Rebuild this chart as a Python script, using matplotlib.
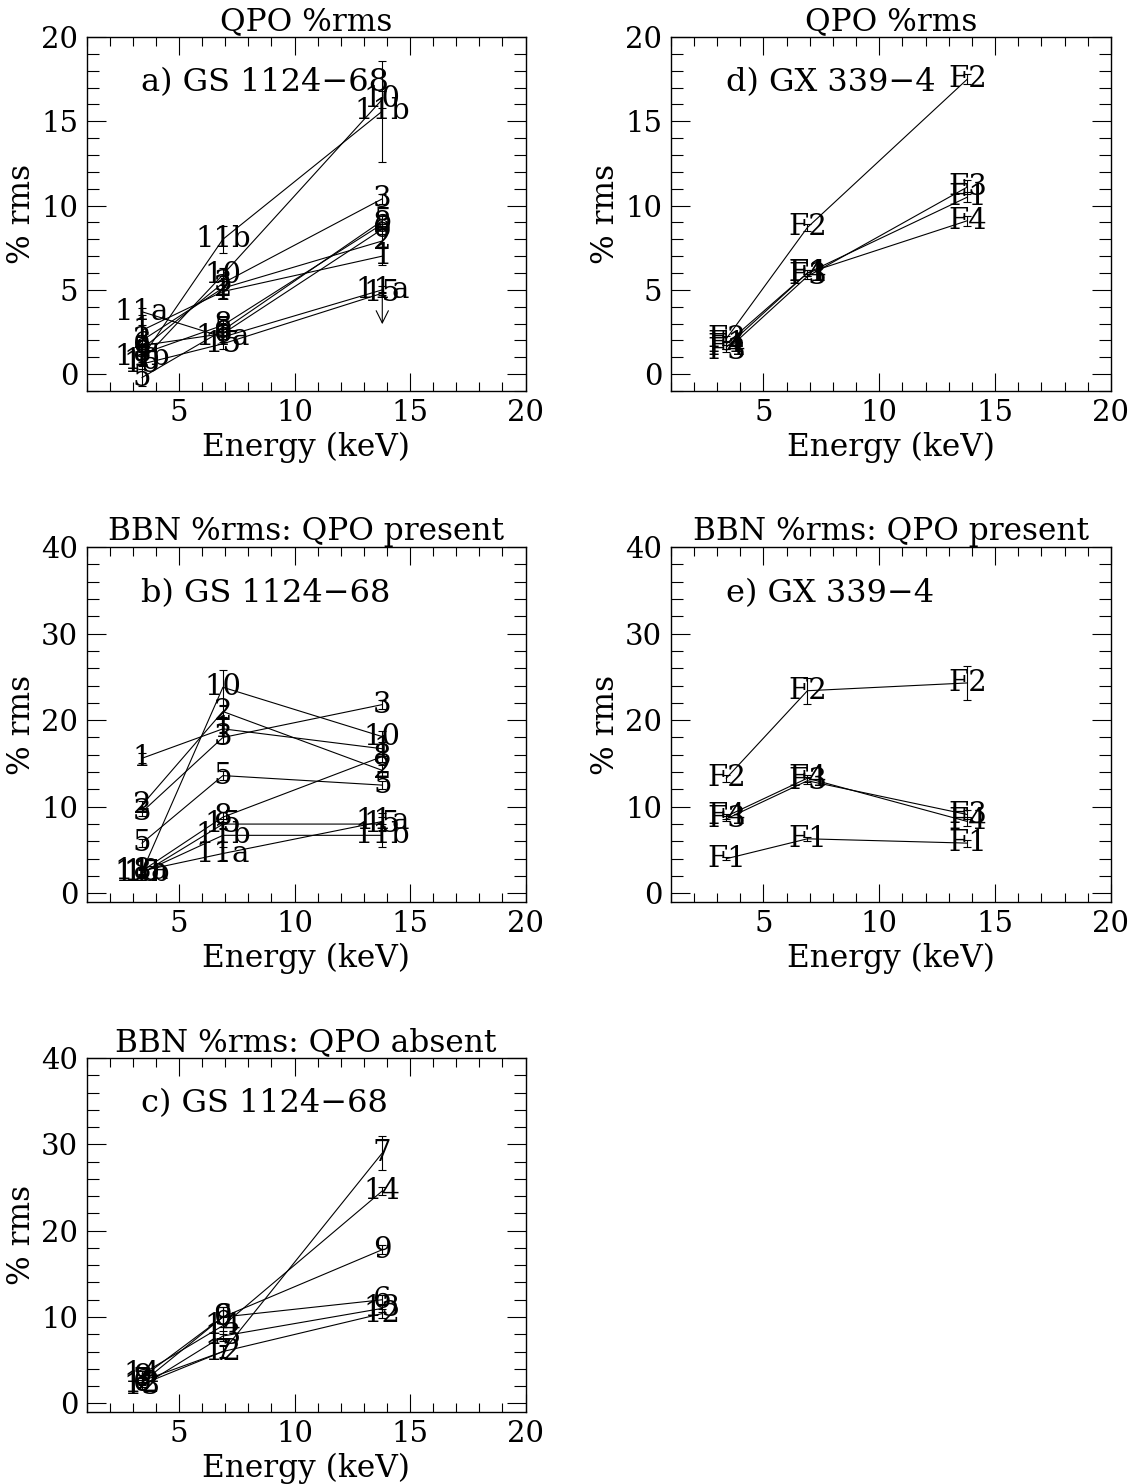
import matplotlib
matplotlib.use("Agg")
import matplotlib.pyplot as plt
from matplotlib.ticker import MultipleLocator

plt.rcParams["font.family"] = ["DejaVu Serif"]
plt.rcParams["font.size"] = 22

# band centres (keV)
energy = [3.4, 6.9, 13.8]

# a) GS 1124-68, QPO %rms
qpo_gs_names = ["1", "2", "3", "5", "6", "8", "10", "11a", "11b", "15"]
qpo_gs_rms = [
    [2.6, 4.9, 7.0],
    [2.0, 5.1, 7.9],
    [1.5, 5.4, 10.4],
    [-0.2, 2.6, 9.1],
    [1.7, 2.4, 8.6],
    [1.2, 2.9, 8.9],
    [0.8, 5.9, 16.3],
    [3.7, 2.2, 5.0],
    [1.0, 8.0, 15.6],
    [0.6, 1.8, 4.8],
]
qpo_gs_err = [
    [0.3, 0.4, 0.5],
    [0.3, 0.4, 0.4],
    [0.3, 0.4, 0.3],
    [0.5, 0.3, 0.3],
    [0.3, 0.3, 0.3],
    [0.3, 0.4, 0.3],
    [0.3, 0.4, 0.5],
    [0.2, 0.3, 0.2],
    [0.3, 0.8, 3.0],
    [0.3, 0.3, 0.1],
]
# upper limit on "15" in the top band
qpo_gs_limit = ("15", 2.0)

# d) GX 339-4, QPO %rms
qpo_gx_names = ["F1", "F2", "F3", "F4"]
qpo_gx_rms = [
    [1.8, 6.0, 10.5],
    [2.1, 8.7, 17.5],
    [1.4, 5.8, 11.1],
    [1.6, 6.0, 9.1],
]
qpo_gx_err = [
    [0.1, 0.15, 0.3],
    [0.15, 0.2, 0.3],
    [0.1, 0.15, 0.4],
    [0.1, 0.15, 0.3],
]

# b) GS 1124-68, BBN %rms with QPO
bbn_gs_names = ["1", "2", "3", "5", "8", "10", "11a", "11b", "15"]
bbn_gs_rms = [
    [15.6, 19.0, 16.7],
    [10.2, 21.0, 14.2],
    [9.4, 18.0, 21.8],
    [5.8, 13.6, 12.5],
    [2.6, 8.8, 15.8],
    [2.5, 23.8, 18.1],
    [2.6, 4.6, 8.3],
    [2.4, 6.7, 6.7],
    [2.3, 8.0, 8.0],
]
bbn_gs_err = [
    [0.6, 0.5, 0.6],
    [0.5, 0.6, 0.6],
    [0.5, 0.6, 0.5],
    [0.5, 0.5, 0.5],
    [0.4, 0.6, 0.6],
    [0.4, 2.0, 0.6],
    [0.4, 0.8, 1.0],
    [0.4, 0.8, 1.3],
    [0.4, 0.6, 0.8],
]

# e) GX 339-4, BBN %rms with QPO
bbn_gx_names = ["F1", "F2", "F3", "F4"]
bbn_gx_rms = [
    [4.0, 6.3, 5.8],
    [13.3, 23.4, 24.3],
    [8.6, 13.0, 9.1],
    [8.9, 13.3, 8.3],
]
bbn_gx_err = [
    [0.2, 0.2, 0.4],
    [0.4, 1.5, 2.0],
    [0.3, 0.4, 0.5],
    [0.3, 0.4, 0.5],
]

# c) GS 1124-68, BBN %rms without QPO
bbn_abs_names = ["6", "7", "9", "12", "13", "14"]
bbn_abs_rms = [
    [2.4, 10.0, 12.0],
    [2.6, 6.0, 29.0],
    [3.0, 10.0, 17.8],
    [2.2, 6.0, 10.4],
    [2.0, 7.8, 11.0],
    [3.4, 9.0, 24.6],
]
bbn_abs_err = [
    [0.3, 1.2, 0.5],
    [0.3, 0.8, 2.0],
    [0.3, 1.2, 0.5],
    [0.3, 0.6, 0.5],
    [0.3, 0.6, 0.4],
    [0.3, 1.0, 0.5],
]

W, H = 1135, 1484
fig = plt.figure(figsize=(W / 100, H / 100), dpi=100)


def panel(box, ymax, ystep, yminor, title, tag, names, rms, errs, limit=None):
    l, t, r, b = box
    ax = fig.add_axes([l / W, 1 - b / H, (r - l) / W, (b - t) / H])
    ax.set_xlim(1, 20)
    ax.set_ylim(-1, ymax)
    ax.xaxis.set_major_locator(MultipleLocator(5))
    ax.xaxis.set_minor_locator(MultipleLocator(1))
    ax.yaxis.set_major_locator(MultipleLocator(ystep))
    ax.yaxis.set_minor_locator(MultipleLocator(yminor))
    ax.set_xticks([5, 10, 15, 20])
    ax.set_yticks(list(range(0, ymax + 1, ystep)))
    ax.tick_params(which="both", direction="in", top=True, right=True,
                   width=0.8, color="k", labelsize=21)
    ax.tick_params(axis="x", which="major", length=13, pad=6)
    ax.tick_params(axis="x", which="minor", length=6.5)
    ax.tick_params(axis="y", which="major", length=14, pad=6)
    ax.tick_params(axis="y", which="minor", length=8.5)
    for s in ax.spines.values():
        s.set_linewidth(1.0)

    for name, y, e in zip(names, rms, errs):
        ax.errorbar(energy, y, yerr=e, color="k", lw=0.8, elinewidth=0.8,
                    capsize=3, capthick=0.8)
        for xv, yv in zip(energy, y):
            ax.text(xv, yv, name, ha="center", va="center", fontsize=21)
        if limit is not None and name == limit[0]:
            ax.annotate("", xy=(energy[-1], y[-1] - limit[1]),
                        xytext=(energy[-1], y[-1]),
                        arrowprops=dict(arrowstyle="->", lw=0.8, color="k"))

    ax.text(0.125, 0.87, tag, transform=ax.transAxes, ha="left", va="center",
            fontsize=23)
    ax.set_title(title, pad=2, fontsize=22.5)
    ax.set_xlabel("Energy (keV)", labelpad=3, fontsize=22.5)
    ax.set_ylabel("% rms", labelpad=3, fontsize=22.5)
    return ax


left_col = (86.6, 525.5)
right_col = (670.7, 1111)

panel((left_col[0], 37, left_col[1], 391), 20, 5, 1, "QPO %rms",
      "a) GS 1124\u221268", qpo_gs_names, qpo_gs_rms, qpo_gs_err,
      limit=qpo_gs_limit)
panel((right_col[0], 37, right_col[1], 391), 20, 5, 1, "QPO %rms",
      "d) GX 339\u22124", qpo_gx_names, qpo_gx_rms, qpo_gx_err)
panel((left_col[0], 547, left_col[1], 902), 40, 10, 2,
      "BBN %rms: QPO present", "b) GS 1124\u221268",
      bbn_gs_names, bbn_gs_rms, bbn_gs_err)
panel((right_col[0], 547, right_col[1], 902), 40, 10, 2,
      "BBN %rms: QPO present", "e) GX 339\u22124",
      bbn_gx_names, bbn_gx_rms, bbn_gx_err)
panel((left_col[0], 1058, left_col[1], 1412), 40, 10, 2,
      "BBN %rms: QPO absent", "c) GS 1124\u221268",
      bbn_abs_names, bbn_abs_rms, bbn_abs_err)

fig.savefig("out.png", dpi=100)
